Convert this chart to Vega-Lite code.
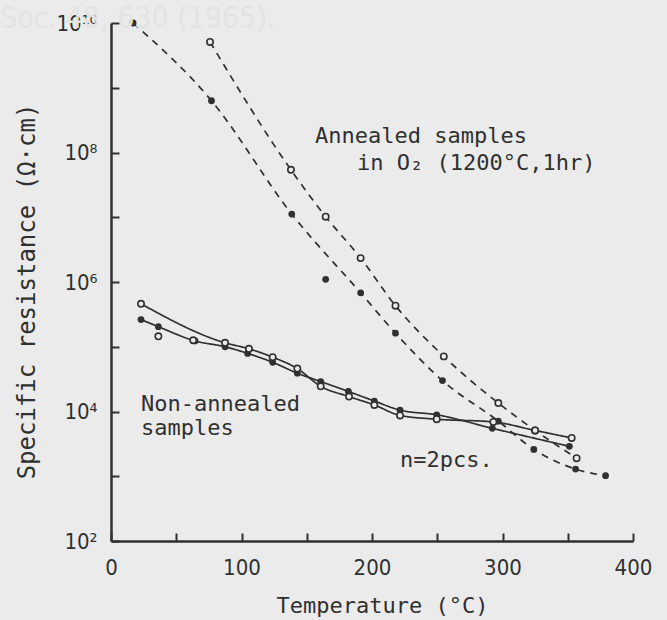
{
  "$schema": "https://vega.github.io/schema/vega-lite/v6.json",
  "autosize": "none",
  "width": 522,
  "height": 518,
  "padding": {"left": 111, "top": 23, "right": 34, "bottom": 79},
  "background": "#ebebeb",
  "config": {
    "view": {"stroke": null},
    "axis": {
      "domainColor": "#303030", "domainWidth": 2.5,
      "tickColor": "#303030", "tickWidth": 2, "tickSize": -8,
      "grid": false,
      "labelFont": "DejaVu Sans Condensed, Liberation Sans Narrow, DejaVu Sans",
      "labelFontSize": 22, "labelColor": "#303030",
      "titleFont": "DejaVu Sans Mono", "titleFontWeight": "normal",
      "titleColor": "#303030"
    }
  },
  "datasets": {
    "pts": [
      {"series": "AF", "sample": "Annealed", "marker": "filled", "fit": true, "T": 16.9, "R": 1.0e10},
      {"series": "AF", "sample": "Annealed", "marker": "filled", "fit": true, "T": 77, "R": 6.3e8},
      {"series": "AF", "sample": "Annealed", "marker": "filled", "fit": true, "T": 138.5, "R": 1.12e7},
      {"series": "AF", "sample": "Annealed", "marker": "filled", "fit": false, "T": 164.5, "R": 1.1e6},
      {"series": "AF", "sample": "Annealed", "marker": "filled", "fit": true, "T": 191.3, "R": 6.8e5},
      {"series": "AF", "sample": "Annealed", "marker": "filled", "fit": true, "T": 218, "R": 1.62e5},
      {"series": "AF", "sample": "Annealed", "marker": "filled", "fit": true, "T": 254, "R": 3.0e4},
      {"series": "AF", "sample": "Annealed", "marker": "filled", "fit": true, "T": 296.8, "R": 7.1e3},
      {"series": "AF", "sample": "Annealed", "marker": "filled", "fit": true, "T": 324, "R": 2.6e3},
      {"series": "AF", "sample": "Annealed", "marker": "filled", "fit": true, "T": 356, "R": 1.29e3},
      {"series": "AF", "sample": "Annealed", "marker": "filled", "fit": true, "T": 379, "R": 1.02e3},
      {"series": "AO", "sample": "Annealed", "marker": "open", "fit": true, "T": 75.9, "R": 5.1e9},
      {"series": "AO", "sample": "Annealed", "marker": "open", "fit": true, "T": 137.9, "R": 5.4e7},
      {"series": "AO", "sample": "Annealed", "marker": "open", "fit": true, "T": 164.5, "R": 1.02e7},
      {"series": "AO", "sample": "Annealed", "marker": "open", "fit": true, "T": 191.3, "R": 2.34e6},
      {"series": "AO", "sample": "Annealed", "marker": "open", "fit": true, "T": 218, "R": 4.3e5},
      {"series": "AO", "sample": "Annealed", "marker": "open", "fit": true, "T": 255, "R": 7.1e4},
      {"series": "AO", "sample": "Annealed", "marker": "open", "fit": true, "T": 296.8, "R": 1.35e4},
      {"series": "AO", "sample": "Annealed", "marker": "open", "fit": true, "T": 325, "R": 5.1e3},
      {"series": "AO", "sample": "Annealed", "marker": "open", "fit": true, "T": 356.8, "R": 1.9e3},
      {"series": "NO", "sample": "Non-annealed", "marker": "open", "fit": true, "T": 23, "R": 4.6e5},
      {"series": "NO", "sample": "Non-annealed", "marker": "open", "fit": false, "T": 36.3, "R": 1.45e5},
      {"series": "NO", "sample": "Non-annealed", "marker": "open", "fit": false, "T": 63, "R": 1.26e5},
      {"series": "NO", "sample": "Non-annealed", "marker": "open", "fit": true, "T": 87.4, "R": 1.15e5},
      {"series": "NO", "sample": "Non-annealed", "marker": "open", "fit": true, "T": 105.7, "R": 9.3e4},
      {"series": "NO", "sample": "Non-annealed", "marker": "open", "fit": true, "T": 123.9, "R": 6.9e4},
      {"series": "NO", "sample": "Non-annealed", "marker": "open", "fit": true, "T": 142.8, "R": 4.6e4},
      {"series": "NO", "sample": "Non-annealed", "marker": "open", "fit": true, "T": 160.7, "R": 2.45e4},
      {"series": "NO", "sample": "Non-annealed", "marker": "open", "fit": true, "T": 182.4, "R": 1.7e4},
      {"series": "NO", "sample": "Non-annealed", "marker": "open", "fit": true, "T": 201.8, "R": 1.26e4},
      {"series": "NO", "sample": "Non-annealed", "marker": "open", "fit": true, "T": 221.5, "R": 8.7e3},
      {"series": "NO", "sample": "Non-annealed", "marker": "open", "fit": true, "T": 249.6, "R": 7.6e3},
      {"series": "NO", "sample": "Non-annealed", "marker": "open", "fit": true, "T": 293, "R": 6.9e3},
      {"series": "NO", "sample": "Non-annealed", "marker": "open", "fit": true, "T": 325, "R": 5.1e3},
      {"series": "NO", "sample": "Non-annealed", "marker": "open", "fit": true, "T": 353, "R": 3.9e3},
      {"series": "NF", "sample": "Non-annealed", "marker": "filled", "fit": true, "T": 23, "R": 2.63e5},
      {"series": "NF", "sample": "Non-annealed", "marker": "filled", "fit": true, "T": 36.3, "R": 2.04e5},
      {"series": "NF", "sample": "Non-annealed", "marker": "filled", "fit": true, "T": 64.4, "R": 1.23e5},
      {"series": "NF", "sample": "Non-annealed", "marker": "filled", "fit": true, "T": 87.4, "R": 1.0e5},
      {"series": "NF", "sample": "Non-annealed", "marker": "filled", "fit": true, "T": 104.7, "R": 7.9e4},
      {"series": "NF", "sample": "Non-annealed", "marker": "filled", "fit": true, "T": 123.9, "R": 5.75e4},
      {"series": "NF", "sample": "Non-annealed", "marker": "filled", "fit": true, "T": 142.8, "R": 3.9e4},
      {"series": "NF", "sample": "Non-annealed", "marker": "filled", "fit": true, "T": 160.7, "R": 2.9e4},
      {"series": "NF", "sample": "Non-annealed", "marker": "filled", "fit": true, "T": 181.9, "R": 2.04e4},
      {"series": "NF", "sample": "Non-annealed", "marker": "filled", "fit": true, "T": 201.8, "R": 1.45e4},
      {"series": "NF", "sample": "Non-annealed", "marker": "filled", "fit": true, "T": 221.5, "R": 1.05e4},
      {"series": "NF", "sample": "Non-annealed", "marker": "filled", "fit": true, "T": 249.6, "R": 8.9e3},
      {"series": "NF", "sample": "Non-annealed", "marker": "filled", "fit": true, "T": 292.2, "R": 5.5e3},
      {"series": "NF", "sample": "Non-annealed", "marker": "filled", "fit": true, "T": 351.2, "R": 2.9e3}
    ],
    "notes": [
      {"text": "Annealed samples", "T": 156.3, "R": 1.41e8},
      {"text": "in O₂ (1200°C,1hr)", "T": 188.5, "R": 5.4e7},
      {"text": "Non-annealed", "T": 23, "R": 1.03e4},
      {"text": "samples", "T": 23, "R": 4.37e3},
      {"text": "n=2pcs.", "T": 221.5, "R": 1.39e3}
    ]
  },
  "encoding": {
    "x": {
      "field": "T", "type": "quantitative",
      "scale": {"domain": [0, 400], "nice": false, "zero": false},
      "axis": {
        "title": "Temperature (°C)",
        "titleFontSize": 22,
        "titleX": 271, "titleY": 64, "titleBaseline": "middle",
        "values": [0, 50, 100, 150, 200, 250, 300, 350, 400],
        "labelExpr": "datum.value % 100 === 0 ? datum.label : ''",
        "labelPadding": 24,
        "labelBaseline": "top",
        "labelFlush": false
      }
    },
    "y": {
      "field": "R", "type": "quantitative",
      "scale": {"type": "log", "domain": [100, 10000000000], "nice": false},
      "axis": {
        "title": "Specific resistance (Ω·cm)",
        "titleFontSize": 24,
        "titleAngle": -90,
        "titleX": -84, "titleY": 268,
        "titleAlign": "center", "titleBaseline": "middle",
        "values": [100, 1000, 10000, 100000, 1000000, 10000000, 100000000, 1000000000, 10000000000],
        "labelExpr": "datum.value == 100 ? '10²' : datum.value == 10000 ? '10⁴' : datum.value == 1000000 ? '10⁶' : datum.value == 100000000 ? '10⁸' : datum.value == 10000000000 ? '10¹⁰' : ''",
        "labelPadding": 22,
        "labelFlush": false
      }
    }
  },
  "layer": [
    {
      "data": {"name": "pts"},
      "transform": [{"filter": "datum.fit"}],
      "mark": {"type": "line", "interpolate": "monotone", "color": "#303030", "strokeWidth": 1.7},
      "encoding": {
        "detail": {"field": "series"},
        "strokeDash": {
          "field": "sample", "type": "nominal",
          "scale": {"domain": ["Annealed", "Non-annealed"], "range": [[7, 6], [1, 0]]},
          "legend": null
        }
      }
    },
    {
      "data": {"name": "pts"},
      "transform": [{"filter": "datum.marker === 'filled'"}],
      "mark": {"type": "circle", "size": 46, "color": "#303030", "opacity": 1}
    },
    {
      "data": {"name": "pts"},
      "transform": [{"filter": "datum.marker === 'open'"}],
      "mark": {"type": "point", "shape": "circle", "size": 40, "filled": true, "fill": "#ebebeb", "fillOpacity": 1, "opacity": 1, "stroke": "#303030", "strokeWidth": 1.6}
    },
    {
      "data": {"name": "notes"},
      "mark": {"type": "text", "align": "left", "baseline": "alphabetic", "font": "DejaVu Sans Mono", "fontSize": 22, "color": "#303030"},
      "encoding": {"text": {"field": "text"}}
    },
    {
      "data": {"values": [{"text": "Soc. 48, 630 (1965).", "T": -85, "R": 8.3e9}]},
      "mark": {"type": "text", "align": "left", "baseline": "alphabetic", "font": "DejaVu Sans Condensed, Liberation Sans Narrow, DejaVu Sans", "fontSize": 30, "color": "#e3e3e3"},
      "encoding": {"text": {"field": "text"}}
    }
  ]
}
